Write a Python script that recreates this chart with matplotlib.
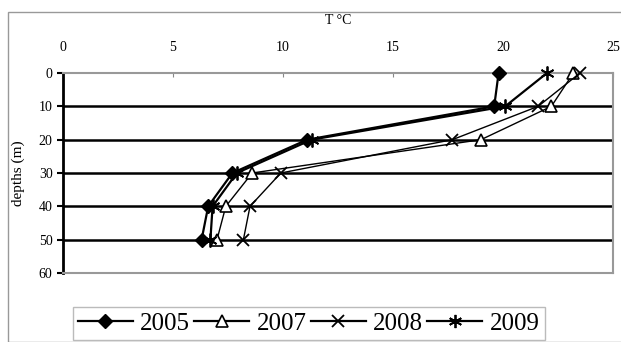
import matplotlib
matplotlib.use("Agg")
import matplotlib.pyplot as plt
from matplotlib.patches import Rectangle

depths = [0, 10, 20, 30, 40, 50]
t2005 = [19.8, 19.6, 11.1, 7.7, 6.6, 6.3]
t2007 = [23.2, 22.2, 19.0, 8.6, 7.4, 7.0]
t2008 = [23.5, 21.6, 17.7, 9.9, 8.5, 8.2]
t2009 = [22.0, 20.1, 11.3, 7.9, 6.8, 6.7]
xticks = [0, 5, 10, 15, 20, 25]
yticks = [0, 10, 20, 30, 40, 50, 60]

plt.rcParams['font.family'] = ['Liberation Serif', 'DejaVu Serif']

fig = plt.figure(figsize=(6.21, 3.42), dpi=100)
fig.patches.append(Rectangle((8/621, 0), 1, 1 - 12/342, transform=fig.transFigure,
                             fill=False, edgecolor='#999999', linewidth=1.0))

ax = fig.add_axes([63/621, 1 - 273/342, 550/621, 200/342])
ax.set_xlim(0, 25)
ax.set_ylim(60, 0)

for y in yticks[1:-1]:
    ax.axhline(y, color='black', linewidth=1.8, zorder=1)

l1, = ax.plot(t2005, depths, color='black', lw=1.6, marker='D', ms=7,
              mfc='black', mec='black', zorder=4, label='2005', clip_on=False)
l2, = ax.plot(t2007, depths, color='black', lw=1.0, marker='^', ms=9,
              mfc='white', mec='black', mew=1.2, zorder=3, label='2007', clip_on=False)
l3, = ax.plot(t2008, depths, color='black', lw=1.0, marker='x', ms=9,
              mec='black', mew=1.3, zorder=3, label='2008', clip_on=False)
l4, = ax.plot(t2009, depths, color='black', lw=1.6, marker=(6, 2, 0), ms=10,
              mec='black', mew=1.3, zorder=4, label='2009', clip_on=False)

ax.xaxis.tick_top()
ax.xaxis.set_label_position('top')
ax.set_xticks(xticks)
ax.set_yticks(yticks)
ax.tick_params(axis='x', colors='#888888', labelcolor='black', length=3, direction='in',
               labelsize=10, pad=14)
ax.tick_params(axis='y', length=4, width=1.5, labelsize=10)
ax.set_xlabel('T °C', fontsize=10, labelpad=12)
ax.set_ylabel('depths (m)', fontsize=11, labelpad=10)

ax.spines['left'].set_color('black')
ax.spines['left'].set_linewidth(2.0)
for s in ['top', 'bottom', 'right']:
    ax.spines[s].set_color('#999999')
    ax.spines[s].set_linewidth(1.5)

leg = fig.legend(handles=[l1, l2, l3, l4], loc='lower left',
                 bbox_to_anchor=(60/621, -0.03, 497/621, 38/342), mode='expand',
                 ncol=4, fontsize=18, frameon=True, fancybox=False, markerscale=0.95,
                 edgecolor='#aaaaaa', handlelength=2.2, handletextpad=0.3,
                 columnspacing=0.6, borderpad=0.2)
leg.get_frame().set_linewidth(1.0)
for h in leg.legend_handles:
    h.set_linewidth(1.6)

fig.savefig('out.png', dpi=100)
